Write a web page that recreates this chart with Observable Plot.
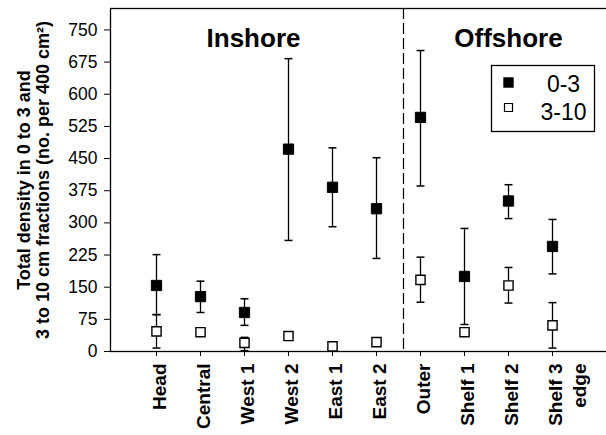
<!DOCTYPE html>
<html>
<head>
<meta charset="utf-8">
<script src="https://cdn.jsdelivr.net/npm/d3@7"></script>
<script src="https://cdn.jsdelivr.net/npm/@observablehq/plot@0.6"></script>
<style>
  html, body { margin: 0; padding: 0; background: #fff; }
  #chart { width: 606px; height: 435px; overflow: hidden; }
</style>
</head>
<body>
<div id="chart"></div>
<script>
// ---- data ----
const sites = ["Head", "Central", "West 1", "West 2", "East 1", "East 2", "Outer", "Shelf 1", "Shelf 2", "Shelf 3\nedge"];
const fine = [154, 128, 91, 472, 383, 333, 546, 175, 351, 245];          // 0-3 cm
const fineLow = [86, 91, 61, 259, 291, 217, 386, 63, 310, 181];
const fineHigh = [226, 164, 123, 683, 475, 452, 702, 287, 389, 308];
const coarse = [47, 45, 20, 36, 12, 22, 167, 45, 154, 61];              // 3-10 cm
const coarseLow = [8, null, 2, null, null, null, 115, null, 113, 8];
const coarseHigh = [86, null, 33, null, null, null, 220, null, 196, 114];
const yTicks = [0, 75, 150, 225, 300, 375, 450, 525, 600, 675, 750];
const seriesLabels = ["0-3", "3-10"];
const regionLabels = ["Inshore", "Offshore"];
const yTitle = "Total density in 0 to 3 and\n3 to 10 cm fractions (no. per 400 cm²)";

const fineData = sites.map((s, i) => ({site: s, v: fine[i], lo: fineLow[i], hi: fineHigh[i]}));
const coarseData = sites.map((s, i) => ({site: s, v: coarse[i], lo: coarseLow[i], hi: coarseHigh[i]}));
const errData = [...fineData, ...coarseData].filter(d => d.lo != null);
const capData = errData.flatMap(d => [{site: d.site, y: d.lo}, {site: d.site, y: d.hi}]);

const capSymbol = {
  draw(context, size) {
    const w = Math.sqrt(size) / 2;
    context.moveTo(-w, 0);
    context.lineTo(w, 0);
  }
};

const font = "'Liberation Sans', Arial, Helvetica, sans-serif";

const chart = Plot.plot({
  width: 606,
  height: 435,
  marginLeft: 110,
  marginRight: 0,
  marginTop: 8,
  marginBottom: 84,
  style: {fontFamily: font, fontSize: "17px", color: "black", background: "white"},
  x: {type: "point", domain: sites, insetLeft: 43, insetRight: 52, padding: 0},
  y: {domain: [0, 800]},
  marks: [
    Plot.frame({stroke: "black", strokeWidth: 1.3, insetRight: -4}),
    Plot.ruleX(["East 2"], {dx: 27, stroke: "black", strokeWidth: 1.2, strokeDasharray: "11,4"}),
    // legend box
    Plot.frame({stroke: "black", strokeWidth: 1.3, fill: "white", insetLeft: 381, insetRight: 12, insetTop: 57, insetBottom: 220}),
    // error bars
    Plot.ruleX(errData, {x: "site", y1: "lo", y2: "hi", stroke: "black", strokeWidth: 1.3}),
    Plot.dot(capData, {x: "site", y: "y", symbol: capSymbol, r: 4.5, stroke: "black", strokeWidth: 1.5, fill: "none"}),
    // points
    Plot.dot(coarseData, {x: "site", y: "v", symbol: "square", r: 5.2, fill: "white", stroke: "black", strokeWidth: 1.4}),
    Plot.dot(fineData, {x: "site", y: "v", symbol: "square", r: 5.8, fill: "black", stroke: "black", strokeWidth: 1}),
    // legend entries
    Plot.dot([seriesLabels[0]], {frameAnchor: "top-right", dx: -98, dy: 74, symbol: "square", r: 5, fill: "black", stroke: "black"}),
    Plot.dot([seriesLabels[1]], {frameAnchor: "top-right", dx: -98, dy: 99, symbol: "square", r: 4.5, fill: "white", stroke: "black", strokeWidth: 1.2}),
    Plot.text([seriesLabels[0]], {text: d => d, frameAnchor: "top-right", dx: -43, dy: 76, fontSize: 23, textAnchor: "middle", lineAnchor: "middle", fill: "black"}),
    Plot.text([seriesLabels[1]], {text: d => d, frameAnchor: "top-right", dx: -43, dy: 104, fontSize: 23, textAnchor: "middle", lineAnchor: "middle", fill: "black"}),
    // region labels
    Plot.text([regionLabels[0]], {x: () => "West 1", text: d => d, frameAnchor: "top", dx: 9, dy: 20, lineAnchor: "top", fontSize: 26, fontWeight: "bold", fill: "black"}),
    Plot.text([regionLabels[1]], {x: () => "Shelf 2", text: d => d, frameAnchor: "top", dx: 0, dy: 20, lineAnchor: "top", fontSize: 26, fontWeight: "bold", fill: "black"}),
    // axes
    Plot.axisY({ticks: yTicks, tickSize: 6, tickPadding: 7, fontSize: 17.5, label: null, stroke: "black"}),
    Plot.axisX({tickSize: 5, tickFormat: () => "", label: null, stroke: "black"}),
    Plot.text(sites, {x: d => d, text: d => d, frameAnchor: "bottom", rotate: -90, textAnchor: "end", lineAnchor: "top", dy: 12, dx: -7, fontSize: 19, fontWeight: "bold", lineHeight: 1.25, fill: "black"}),
    Plot.text([yTitle], {frameAnchor: "left", rotate: -90, dx: -77, fontSize: 18, fontWeight: "bold", lineHeight: 1.05, textAnchor: "middle", fill: "black"})
  ]
});
document.getElementById("chart").appendChild(chart);
</script>
</body>
</html>
